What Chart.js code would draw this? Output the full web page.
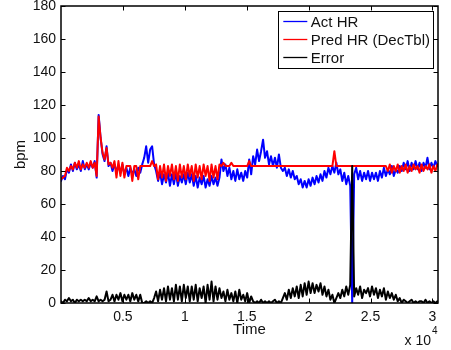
<!DOCTYPE html>
<html><head><meta charset="utf-8">
<script src="https://cdn.jsdelivr.net/npm/chart.js@4/dist/chart.umd.min.js"></script>
<style>html,body{margin:0;padding:0;background:#fff;overflow:hidden}</style>
</head><body>
<canvas id="c" width="451" height="350"></canvas>
<script>
// ---------------- data ----------------
const sampleInterval = 160;          // time units between samples
const xAxisMax = 30450;
const seriesNames = ['Act HR', 'Pred HR (DecTbl)', 'Error'];
const xAxisTitle = 'Time';
const yAxisTitle = 'bpm';
const xExponentBase = 'x 10';
const xExponentPower = '4';
const xTickValues = [5000, 10000, 15000, 20000, 25000, 30000];
const xTickLabels = ['0.5', '1', '1.5', '2', '2.5', '3'];
const yTickValues = [0, 20, 40, 60, 80, 100, 120, 140, 160, 180];

const actHR = [
  74,77,75,81,79,84,80,85,81,84,
  80,86,81,84,81,85,82,86,76,114,
  100,90,86,95,83,85,80,84,80,83,
  79,84,78,82,77,82,78,81,77,82,
  79,84,88,95,85,93,95,84,80,74,
  79,72,78,73,79,71,78,72,79,71,
  77,73,78,72,79,73,78,71,77,70,
  76,72,77,70,75,71,77,72,76,71,
  76,87,80,84,77,82,75,80,74,81,
  75,79,74,80,76,87,78,89,84,93,
  86,92,99,88,92,84,89,83,88,82,
  90,82,80,82,77,81,76,80,75,77,
  72,75,70,74,70,75,71,76,72,77,
  73,78,74,80,76,82,78,83,79,85,
  78,81,74,79,72,77,71,0,78,82,
  75,80,74,79,75,80,74,79,75,79,
  74,80,76,82,77,81,78,83,77,81,
  79,83,80,85,81,86,80,85,81,86,
  81,85,80,85,82,88,81,85,82,86,83
];
const predHR = [
  75,76,77,82,80,83,81,85,82,86,
  81,84,82,85,82,86,82,85,77,113,
  100,91,87,94,84,85,82,86,76,86,
  77,85,76,83,83,83,74,83,83,75,
  83,83,83,83,83,83,86,83,84,75,
  83,76,84,74,83,77,84,75,83,74,
  84,76,83,75,84,77,83,74,84,76,
  83,75,84,77,83,74,84,76,83,75,
  84,83,85,83,83,83,85,83,83,83,
  83,83,83,83,83,86,83,83,83,83,
  83,83,83,83,83,83,83,83,83,83,
  83,83,83,83,83,83,83,83,83,83,
  83,83,83,83,83,83,83,83,83,83,
  83,83,83,83,83,83,83,83,92,83,
  83,83,83,83,83,83,83,83,83,83,
  83,83,83,83,83,83,83,83,83,83,
  83,83,83,83,83,80,84,79,83,80,
  84,79,83,80,84,79,83,80,84,81,
  83,79,84,80,83,81,84,79,83,80,84
];
const errorHR = [
  1,0,2,1,3,1,2,0,2,1,
  2,1,2,1,3,1,2,1,4,1,
  2,1,2,7,1,2,5,1,5,2,
  6,1,5,2,5,1,6,2,5,1,
  5,0,0,1,0,1,0,3,7,1,
  8,2,9,1,10,2,9,1,11,2,
  10,1,11,3,10,1,10,2,11,1,
  9,3,10,0,11,2,13,1,10,2,
  9,3,7,1,8,2,6,1,7,0,
  8,2,5,1,6,0,4,1,0,1,
  0,2,0,1,0,1,0,1,2,0,
  1,0,3,6,2,8,3,9,4,10,
  3,11,4,12,5,13,6,12,6,11,
  7,12,5,10,4,8,2,5,0,3,
  6,3,8,4,10,5,11,83,4,9,
  5,10,3,8,6,9,4,10,5,9,
  3,8,4,9,2,7,3,6,2,5,
  1,3,0,2,1,0,1,2,0,1,
  0,1,1,0,2,0,1,0,1,0,1
];

// ---------------- chart ----------------
const FONT = '"Liberation Sans", Arial, Helvetica, sans-serif';
const toPoints = arr => arr.map((v, i) => ({x: i * sampleInterval, y: v}));

const matlabFrame = {
  id: 'matlabFrame',
  afterDraw(chart) {
    const ctx = chart.ctx;
    const a = chart.chartArea;
    const xs = chart.scales.x, ys = chart.scales.y;
    ctx.save();
    ctx.strokeStyle = '#000';
    ctx.lineWidth = 1.5;
    ctx.strokeRect(a.left, a.top, a.right - a.left, a.bottom - a.top);
    ctx.lineWidth = 1;
    const tl = 4.5;
    ctx.beginPath();
    xs.ticks.forEach(t => {
      const px = Math.round(xs.getPixelForValue(t.value)) + 0.5;
      ctx.moveTo(px, a.bottom); ctx.lineTo(px, a.bottom - tl);
      ctx.moveTo(px, a.top); ctx.lineTo(px, a.top + tl);
    });
    ys.ticks.forEach(t => {
      const py = Math.round(ys.getPixelForValue(t.value)) + 0.5;
      ctx.moveTo(a.left, py); ctx.lineTo(a.left + tl, py);
      ctx.moveTo(a.right, py); ctx.lineTo(a.right - tl, py);
    });
    ctx.stroke();
    ctx.fillStyle = '#111';
    ctx.font = '14px ' + FONT;
    ctx.textAlign = 'right';
    ctx.textBaseline = 'alphabetic';
    ctx.fillText(xExponentBase, a.right - 7, 345);
    ctx.font = '10px ' + FONT;
    ctx.textAlign = 'left';
    ctx.fillText(xExponentPower, a.right - 6, 333.5);
    ctx.font = '15px ' + FONT;
    const ds = chart.data.datasets;
    let maxW = 0;
    ds.forEach(d => { maxW = Math.max(maxW, ctx.measureText(d.label).width); });
    const lineLen = 24, padL = 5.5, gap = 3.5, padR = 3;
    const boxW = padL + lineLen + gap + maxW + padR;
    const rowH = 18, padV = 10.5;
    const boxH = padV * 2 + rowH * (ds.length - 1);
    const bx = a.right - 5 - boxW, by = a.top + 5;
    ctx.fillStyle = '#fff';
    ctx.fillRect(bx, by, boxW, boxH);
    ctx.lineWidth = 1;
    ctx.strokeStyle = '#000';
    ctx.strokeRect(Math.round(bx) + 0.5, Math.round(by) + 0.5, Math.round(boxW), Math.round(boxH));
    ds.forEach((d, i) => {
      const ry = by + padV + i * rowH;
      ctx.strokeStyle = d.borderColor;
      ctx.lineWidth = 1.3;
      ctx.beginPath();
      ctx.moveTo(bx + padL, ry); ctx.lineTo(bx + padL + lineLen, ry);
      ctx.stroke();
      ctx.fillStyle = '#111';
      ctx.textAlign = 'left';
      ctx.textBaseline = 'middle';
      ctx.fillText(d.label, bx + padL + lineLen + gap, ry + 1);
    });
    ctx.restore();
  }
};

new Chart(document.getElementById('c'), {
  type: 'line',
  data: {
    datasets: [
      {label: seriesNames[0], data: toPoints(actHR), borderColor: '#0000ff', borderWidth: 2, order: 3},
      {label: seriesNames[1], data: toPoints(predHR), borderColor: '#ff0000', borderWidth: 2, order: 2},
      {label: seriesNames[2], data: toPoints(errorHR), borderColor: '#000000', borderWidth: 2, order: 1}
    ]
  },
  options: {
    responsive: false,
    animation: false,
    devicePixelRatio: 1,
    layout: {padding: {top: 6, right: 13, bottom: 0, left: 0}},
    elements: {
      line: {tension: 0, fill: false, borderCapStyle: 'round', borderJoinStyle: 'round'},
      point: {radius: 0, hoverRadius: 0}
    },
    plugins: {legend: {display: false}, tooltip: {enabled: false}},
    events: [],
    scales: {
      x: {
        type: 'linear', min: 0, max: xAxisMax,
        grid: {display: false, drawTicks: false},
        border: {display: false},
        afterBuildTicks: s => { s.ticks = xTickValues.map(v => ({value: v})); },
        afterFit: s => { s.height = 47; s.paddingLeft = 0; s.paddingRight = 0; },
        ticks: {
          autoSkip: false, maxRotation: 0, padding: 6, color: '#111',
          font: {family: FONT, size: 14},
          callback: v => { const k = xTickValues.indexOf(v); return k >= 0 ? xTickLabels[k] : ''; }
        },
        title: {display: true, text: xAxisTitle, color: '#111', font: {family: FONT, size: 15}, padding: {top: 0, bottom: 11}}
      },
      y: {
        type: 'linear', min: 0, max: 180,
        grid: {display: false, drawTicks: false},
        border: {display: false},
        afterBuildTicks: s => { s.ticks = yTickValues.map(v => ({value: v})); },
        afterFit: s => { s.width = 61; s.paddingTop = 0; s.paddingBottom = 0; },
        ticks: {autoSkip: false, padding: 5, color: '#111', font: {family: FONT, size: 14}},
        title: {display: true, text: yAxisTitle, color: '#111', font: {family: FONT, size: 15}, padding: {top: 12, bottom: 0}}
      }
    }
  },
  plugins: [matlabFrame]
});
</script>
</body></html>
